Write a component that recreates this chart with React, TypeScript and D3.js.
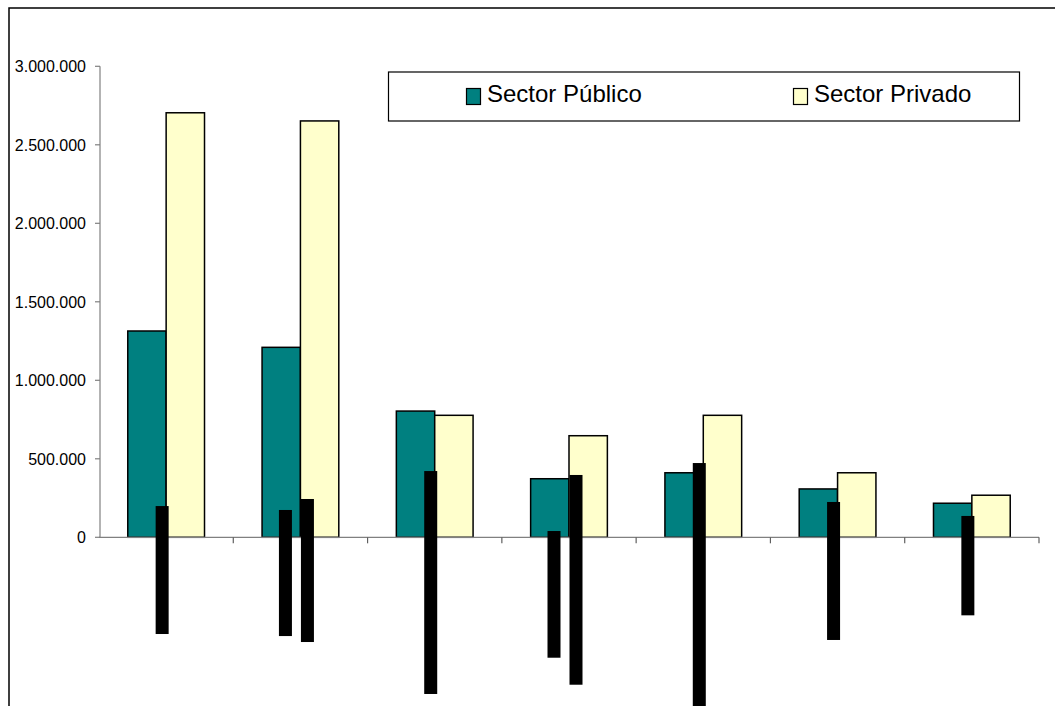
import React from "react";
import * as d3 from "d3";

// ---- data ----
const categories = ["C1", "C2", "C3", "C4", "C5", "C6", "C7"];
const seriesNames = ["Sector Público", "Sector Privado"];
const publico = [1314000, 1210000, 804000, 373000, 411000, 308000, 217000];
const privado = [2704000, 2652000, 777000, 647000, 777000, 411000, 268000];
const yTicks = [0, 500000, 1000000, 1500000, 2000000, 2500000, 3000000];
// category labels appear blacked out: each label line spans [top, bottom] in value units
const labelTops = [[199000], [174000, 244000], [422000], [40000, 397000], [473000], [225000], [136000]];
const labelBottoms = [[-616000], [-629000, -667000], [-998000], [-767000, -939000], [-1075000], [-654000], [-497000]];

const W = 1055;
const H = 706;
const COLORS = ["#008080", "#FFFFCC"];

const locale = d3.formatLocale({ decimal: ",", thousands: ".", grouping: [3], currency: ["", ""] });
const fmt = locale.format(",");

export default function App() {
  const x = d3.scaleBand<string>().domain(categories).range([99, 1039]).paddingInner(0).paddingOuter(0);
  const y = d3.scaleLinear().domain([0, 3000000]).range([537.3, 66.3]);
  const step = x.step();
  const bw = step / 3.5;
  const font = "'Liberation Sans', Arial, sans-serif";

  return (
    <svg
      width={W}
      height={H}
      style={{ position: "absolute", left: 0, top: 0, background: "#fff" }}
    >
      {/* outer frame */}
      <rect x={9} y={8} width={1200} height={900} fill="#fff" stroke="#000" strokeWidth={1.5} />

      {/* bars */}
      {categories.map((c, i) => {
        const cx = (x(c) as number) + step / 2;
        return (
          <g key={c}>
            <rect x={cx - bw} y={y(publico[i])} width={bw} height={y(0) - y(publico[i])}
              fill={COLORS[0]} stroke="#000" strokeWidth={1.5} />
            <rect x={cx} y={y(privado[i])} width={bw} height={y(0) - y(privado[i])}
              fill={COLORS[1]} stroke="#000" strokeWidth={1.5} />
          </g>
        );
      })}

      {/* y axis */}
      <line x1={100} x2={100} y1={y(3000000)} y2={y(0)} stroke="#808080" strokeWidth={1.2} />
      {yTicks.map((t) => (
        <g key={t}>
          <line x1={95} x2={100} y1={y(t)} y2={y(t)} stroke="#808080" strokeWidth={1.2} />
          <text x={86} y={y(t) + 6} textAnchor="end" fontFamily={font} fontSize={16} fill="#000">
            {fmt(t)}
          </text>
        </g>
      ))}

      {/* x axis */}
      <line x1={99} x2={1039} y1={y(0)} y2={y(0)} stroke="#808080" strokeWidth={1.2} />
      {categories.map((c) => (
        <line key={"t" + c} x1={(x(c) as number) + step} x2={(x(c) as number) + step}
          y1={y(0)} y2={y(0) + 6} stroke="#606060" strokeWidth={1.2} />
      ))}

      {/* blacked-out category labels */}
      {categories.map((c, i) => {
        const cx = (x(c) as number) + step / 2;
        const n = labelTops[i].length;
        return labelTops[i].map((top, j) => {
          const off = (j - (n - 1) / 2) * 22 - 4;
          return (
            <rect key={c + j} x={cx + off - 6.5} y={y(top)} width={13}
              height={y(labelBottoms[i][j]) - y(top)} fill="#000" />
          );
        });
      })}

      {/* legend */}
      <rect x={388.5} y={72} width={631} height={49} fill="#fff" stroke="#000" strokeWidth={1.2} />
      {seriesNames.map((s, i) => {
        const lx = i === 0 ? 466.5 : 793.5;
        return (
          <g key={s}>
            <rect x={lx} y={88.5} width={14} height={16} fill={COLORS[i]} stroke="#000" strokeWidth={1.2} />
            <text x={lx + 20.5} y={102} fontFamily={font} fontSize={24} fill="#000">{s}</text>
          </g>
        );
      })}
    </svg>
  );
}
